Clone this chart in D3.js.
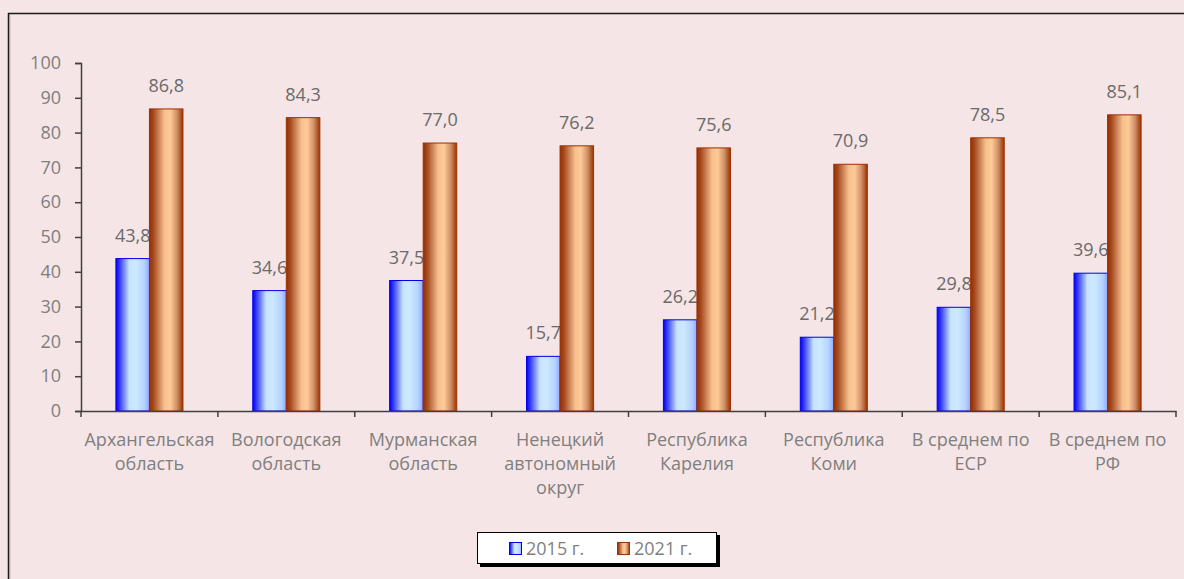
<!DOCTYPE html>
<html><head><meta charset="utf-8">
<script src="https://cdn.jsdelivr.net/npm/d3@7"></script>
<style>
html,body{margin:0;padding:0;background:#f5e5e6;overflow:hidden;}
svg{display:block;font-family:"Open Sans","Liberation Sans",sans-serif;}
</style></head>
<body>
<svg id="c" width="1184" height="579"></svg>
<script>
const categories = [
  ["Архангельская","область"],
  ["Вологодская","область"],
  ["Мурманская","область"],
  ["Ненецкий","автономный","округ"],
  ["Республика","Карелия"],
  ["Республика","Коми"],
  ["В среднем по","ЕСР"],
  ["В среднем по","РФ"]
];
const seriesNames = ["2015 г.","2021 г."];
const values2015 = [43.8, 34.6, 37.5, 15.7, 26.2, 21.2, 29.8, 39.6];
const values2021 = [86.8, 84.3, 77.0, 76.2, 75.6, 70.9, 78.5, 85.1];
const yTicks = [0,10,20,30,40,50,60,70,80,90,100];

const svg = d3.select("#c");
const W = 1184, H = 579;
const FS = 18;
const BG = "#f5e5e6";
svg.append("rect").attr("width",W).attr("height",H).attr("fill",BG);
// outer frame: only left and top edges are inside the view
svg.append("line").attr("x1",10).attr("y1",15).attr("x2",10).attr("y2",H).attr("stroke","#c8bcbc").attr("stroke-width",1);
svg.append("line").attr("x1",8.5).attr("y1",13).attr("x2",8.5).attr("y2",H).attr("stroke","#1a1a1a").attr("stroke-width",1.5);
svg.append("line").attr("x1",8).attr("y1",13.5).attr("x2",W).attr("y2",13.5).attr("stroke","#1a1a1a").attr("stroke-width",1.5);

const defs = svg.append("defs");
const gb = defs.append("linearGradient").attr("id","gBlue").attr("x1","0").attr("x2","1").attr("y1","0").attr("y2","0");
[[0,"#0000f0"],[0.12,"#3a40ff"],[0.4,"#c6e4ff"],[0.6,"#cde9ff"],[0.85,"#b4d2ff"],[1,"#90a8ff"]].forEach(s=>gb.append("stop").attr("offset",s[0]).attr("stop-color",s[1]));
const go = defs.append("linearGradient").attr("id","gOrange").attr("x1","0").attr("x2","1").attr("y1","0").attr("y2","0");
[[0,"#952e00"],[0.12,"#a64a20"],[0.45,"#f6c08f"],[0.62,"#ffca96"],[0.82,"#cf9068"],[1,"#9a3300"]].forEach(s=>go.append("stop").attr("offset",s[0]).attr("stop-color",s[1]));

const x0 = 81, x1 = 1176, yTop = 63, yBot = 411;
const x = d3.scaleBand().domain(d3.range(categories.length)).range([x0,x1]).paddingInner(0).paddingOuter(0);
const y = d3.scaleLinear().domain([0,100]).range([yBot,yTop]);
const sub = d3.scaleBand().domain(seriesNames).range([x.bandwidth()*0.255, x.bandwidth()*0.745]).padding(0);

const yAxis = d3.axisLeft(y).tickValues(yTicks).tickSize(6).tickPadding(14).tickFormat(d3.format("d"));
const gy = svg.append("g").attr("transform",`translate(${x0},0)`).call(yAxis);
gy.select(".domain").attr("stroke","#404040").attr("stroke-width",1.5);
gy.selectAll(".tick line").attr("stroke","#404040").attr("stroke-width",1.5);
gy.selectAll(".tick text").attr("fill","#7f7f7f").attr("font-size",FS).attr("font-family","'Open Sans',sans-serif");

const fmt = v => d3.format(".1f")(v).replace(".",",");

function drawSeries(vals, name, grad, stroke){
  svg.append("g").selectAll("rect").data(vals).join("rect")
    .attr("x",(d,i)=>x(i)+sub(name))
    .attr("y",d=>y(d))
    .attr("width",sub.bandwidth())
    .attr("height",d=>yBot-y(d))
    .attr("fill",`url(#${grad})`)
    .attr("stroke",stroke).attr("stroke-width",1);
}
function drawLabels(vals, name){
  svg.append("g").selectAll("text").data(vals).join("text")
    .attr("x",(d,i)=>x(i)+sub(name)+sub.bandwidth()/2)
    .attr("y",d=>y(d)-17)
    .attr("text-anchor","middle")
    .attr("font-size",FS).attr("fill","#6a6a6a")
    .text(fmt);
}
drawSeries(values2015, seriesNames[0], "gBlue", "#0000ee");
drawLabels(values2015, seriesNames[0]);
drawSeries(values2021, seriesNames[1], "gOrange", "#a03000");
drawLabels(values2021, seriesNames[1]);

const xAxis = d3.axisBottom(x).tickSize(0).tickFormat("");
const gx = svg.append("g").attr("transform",`translate(0,${yBot})`).call(xAxis);
gx.select(".domain").attr("stroke","#404040").attr("stroke-width",1.5);
const bounds = d3.range(categories.length+1).map(i=> i<categories.length ? x(i) : x1);
svg.append("g").selectAll("line").data(bounds).join("line")
  .attr("x1",d=>d).attr("x2",d=>d).attr("y1",yBot).attr("y2",yBot+6)
  .attr("stroke","#404040").attr("stroke-width",1.5);
const cl = svg.append("g");
categories.forEach((lines,i)=>{
  const t = cl.append("text").attr("text-anchor","middle").attr("font-size",FS).attr("fill","#7f7f7f")
    .attr("x", x(i)+x.bandwidth()/2);
  lines.forEach((ln,j)=>t.append("tspan").attr("x",x(i)+x.bandwidth()/2).attr("y",446+j*24).text(ln));
});

const lg = svg.append("g");
lg.append("rect").attr("x",480).attr("y",535).attr("width",240).attr("height",32).attr("fill","#000");
lg.append("rect").attr("x",477.5).attr("y",532.5).attr("width",239).attr("height",31).attr("fill","#fff").attr("stroke","#000").attr("stroke-width",1);
const legendItems = [{name:seriesNames[0],grad:"gBlue",stroke:"#0000ee",x:509},{name:seriesNames[1],grad:"gOrange",stroke:"#a03000",x:617}];
legendItems.forEach(it=>{
  lg.append("rect").attr("x",it.x+0.5).attr("y",542.5).attr("width",12).attr("height",12).attr("fill",`url(#${it.grad})`).attr("stroke",it.stroke);
  lg.append("text").attr("x",it.x+17).attr("y",555).attr("font-size",FS).attr("fill","#7f7f7f").text(it.name);
});
// keep the right margin clear
svg.append("rect").attr("x",1178).attr("y",15).attr("width",W-1178).attr("height",H-15).attr("fill",BG);
</script>
</body></html>
